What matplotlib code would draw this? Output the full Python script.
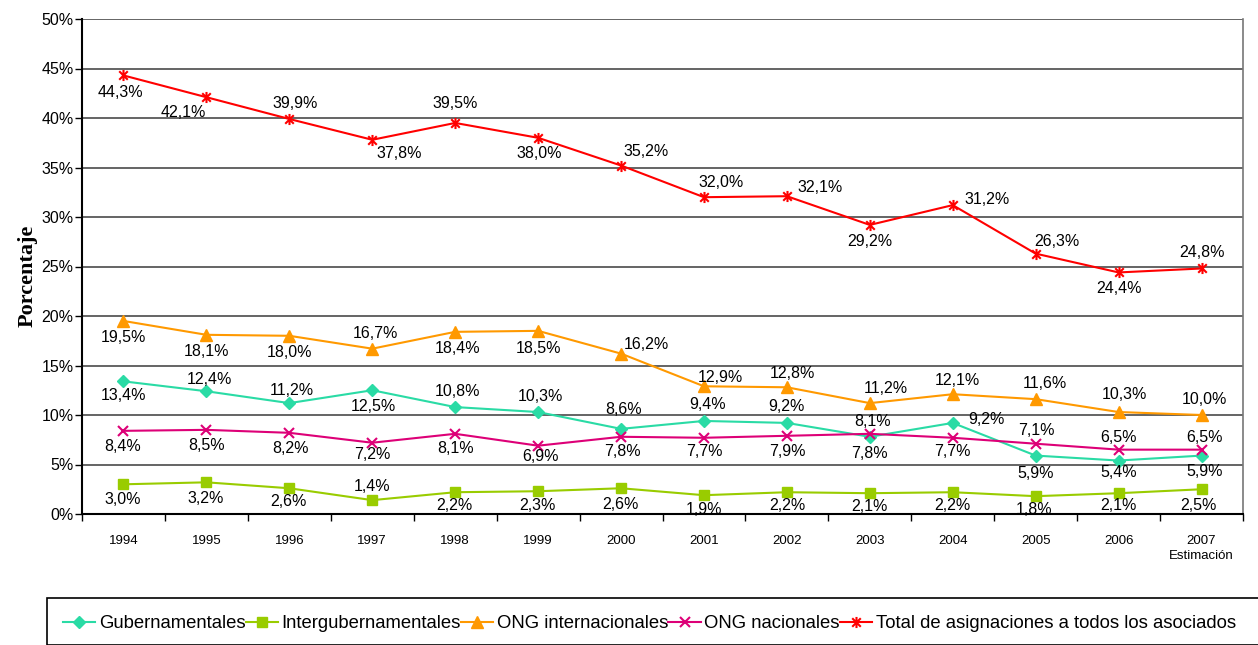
import matplotlib
matplotlib.use('Agg')
import matplotlib.pyplot as plt
from matplotlib.path import Path
from matplotlib.patches import Rectangle

plt.rcParams['font.family'] = ['Liberation Sans', 'DejaVu Sans']

years = ['1994', '1995', '1996', '1997', '1998', '1999', '2000',
         '2001', '2002', '2003', '2004', '2005', '2006', '2007\nEstimación']

gubernamentales = [13.4, 12.4, 11.2, 12.5, 10.8, 10.3, 8.6, 9.4, 9.2, 7.8, 9.2, 5.9, 5.4, 5.9]
intergubernamentales = [3.0, 3.2, 2.6, 1.4, 2.2, 2.3, 2.6, 1.9, 2.2, 2.1, 2.2, 1.8, 2.1, 2.5]
ong_internacionales = [19.5, 18.1, 18.0, 16.7, 18.4, 18.5, 16.2, 12.9, 12.8, 11.2, 12.1, 11.6, 10.3, 10.0]
ong_nacionales = [8.4, 8.5, 8.2, 7.2, 8.1, 6.9, 7.8, 7.7, 7.9, 8.1, 7.7, 7.1, 6.5, 6.5]
total = [44.3, 42.1, 39.9, 37.8, 39.5, 38.0, 35.2, 32.0, 32.1, 29.2, 31.2, 26.3, 24.4, 24.8]

# label offsets in pixels (dx, dy downward), as placed in the original
off_gub = [(0, 14), (3, -12), (2, -13), (1, 16), (2, -16), (2, -16), (3, -19),
           (4, -16), (0, -16), (0, 17), (34, -3), (0, 18), (0, 12), (3, 16)]
off_inter = [(-1, 15), (-1, 16), (-1, 13), (0, -14), (-1, 13), (-1, 14), (-1, 16),
             (0, 14), (0, 13), (0, 13), (0, 13), (-2, 13), (0, 12), (-3, 16)]
off_ongi = [(0, 17), (0, 17), (0, 17), (3, -15), (2, 17), (0, 18), (25, -9),
            (16, -9), (6, -14), (16, -15), (5, -14), (9, -16), (6, -18), (3, -15)]
off_ongn = [(-1, 16), (0, 16), (1, 16), (0, 12), (0, 15), (2, 11), (1, 15),
            (0, 14), (0, 16), (3, -12), (0, 14), (1, -13), (0, -12), (3, -12)]
off_total = [(-3, 17), (-23, 15), (6, -15), (27, 14), (0, -19), (1, 16), (25, -14),
             (17, -15), (33, -9), (0, 17), (34, -6), (21, -12), (0, 16), (0, -16)]

# Excel-like star: an x with a vertical stroke
star = Path([(-1, -1), (1, 1), (-1, 1), (1, -1), (0, -1.3), (0, 1.3)],
            [Path.MOVETO, Path.LINETO, Path.MOVETO, Path.LINETO, Path.MOVETO, Path.LINETO])

series = [
    ('Gubernamentales', gubernamentales, '#2ADBA5', 'D', 6.0, off_gub),
    ('Intergubernamentales', intergubernamentales, '#99CC00', 's', 7.0, off_inter),
    ('ONG internacionales', ong_internacionales, '#FF9900', '^', 8.0, off_ongi),
    ('ONG nacionales', ong_nacionales, '#DD0077', 'x', 7.0, off_ongn),
    ('Total de asignaciones a todos los asociados', total, '#FF0000', star, 8.0, off_total),
]

W, H = 1258, 645
fig = plt.figure(figsize=(W / 100, H / 100), dpi=100)
ax = fig.add_axes([82 / W, 1 - 514 / H, (1243 - 82) / W, (514 - 19) / H])

x = list(range(len(years)))
handles = []
for name, vals, col, mk, ms, offs in series:
    if mk == 'x' or mk is star:
        ln, = ax.plot(x, vals, color=col, lw=1.5, marker=mk, ms=ms, mew=1.5,
                      mec=col, mfc='none', zorder=3, label=name)
    else:
        ln, = ax.plot(x, vals, color=col, lw=1.5, marker=mk, ms=ms, mec=col,
                      mfc=col, zorder=3, label=name)
    handles.append(ln)
    for xi, v, (dx, dy) in zip(x, vals, offs):
        ax.annotate(f'{v:.1f}%'.replace('.', ','), (xi, v), xytext=(dx, -dy),
                    textcoords='offset pixels', ha='center', va='center',
                    fontsize=11.5, color='black', zorder=4)

ax.set_xlim(-0.5, len(years) - 0.5)
ax.set_ylim(0, 50)
ax.set_yticks(range(0, 51, 5))
ax.set_yticklabels([f'{v}%' for v in range(0, 51, 5)], fontsize=11.5)
ax.yaxis.grid(True, color='#3a3a3a', lw=1.1)
ax.set_axisbelow(True)

ax.set_xticks([i - 0.5 for i in range(len(years) + 1)])
ax.set_xticklabels([])
ax.set_xticks(x, minor=True)
ax.set_xticklabels(years, minor=True, fontsize=9.5, va='top', linespacing=1.3)
ax.tick_params(axis='x', which='major', length=5, width=1, direction='out')
ax.tick_params(axis='x', which='minor', length=0, pad=15)
ax.tick_params(axis='y', length=5, width=1, pad=1)

for s in ('left', 'bottom'):
    ax.spines[s].set_color('black')
    ax.spines[s].set_linewidth(1.5)
ax.spines['top'].set_visible(False)
ax.spines['right'].set_color('#777777')
ax.spines['right'].set_linewidth(1.2)

fig.text(28 / W, 1 - 276 / H, 'Porcentaje', rotation=90, ha='center', va='center',
         fontsize=16, fontweight='bold', family=['Liberation Serif', 'DejaVu Serif'])

fig.patches.append(Rectangle((47 / W, 0), (1270 - 47) / W, (H - 598) / H,
                             transform=fig.transFigure, fill=False,
                             edgecolor='black', lw=1.2))
fig.legend(handles=handles, loc='center left', bbox_to_anchor=(63 / W, 1 - 624 / H),
           ncol=5, frameon=False, fontsize=13.3, handlelength=1.75,
           handletextpad=0.2, columnspacing=0.0, borderpad=0, borderaxespad=0)

fig.savefig('out.png', dpi=100)
